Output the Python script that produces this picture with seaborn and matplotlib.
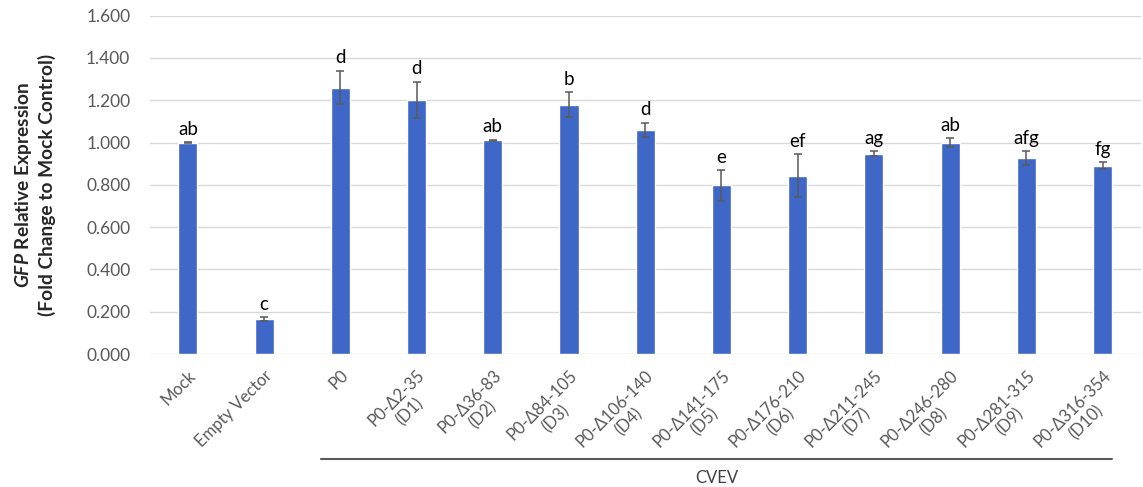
import numpy as np
import pandas as pd
import matplotlib
matplotlib.use("Agg")
import matplotlib.pyplot as plt
import matplotlib.transforms as mtransforms
import seaborn as sns

# ---- data ----
categories = [
    "Mock", "Empty Vector", "P0",
    "P0-Δ2-35\n(D1)", "P0-Δ36-83\n(D2)", "P0-Δ84-105\n(D3)",
    "P0-Δ106-140\n(D4)", "P0-Δ141-175\n(D5)", "P0-Δ176-210\n(D6)",
    "P0-Δ211-245\n(D7)", "P0-Δ246-280\n(D8)", "P0-Δ281-315\n(D9)",
    "P0-Δ316-354\n(D10)",
]
expression = [1.000, 0.165, 1.260, 1.201, 1.010, 1.179, 1.059, 0.797,
              0.844, 0.948, 1.000, 0.927, 0.891]
errors = [0.003, 0.008, 0.080, 0.087, 0.004, 0.060, 0.035, 0.072,
          0.102, 0.012, 0.020, 0.033, 0.018]
letters = ["ab", "c", "d", "d", "ab", "b", "d", "e", "ef", "ag", "ab",
           "afg", "fg"]
y_ticks = [0.0, 0.2, 0.4, 0.6, 0.8, 1.0, 1.2, 1.4, 1.6]
group_label = "CVEV"

df = pd.DataFrame({"construct": categories, "expression": expression})

# ---- style ----
sns.set_theme(style="white")
plt.rcParams["font.family"] = ["Lato", "DejaVu Sans"]
plt.rcParams["mathtext.fontset"] = "custom"
plt.rcParams["mathtext.it"] = "Lato:italic:bold"
plt.rcParams["mathtext.rm"] = "Lato:bold"

bar_color = "#3F67C8"
text_gray = "#595959"

fig = plt.figure(figsize=(11.43, 4.87), dpi=100)
ax = fig.add_axes([0.131, 0.273, 0.867, 0.695])

sns.barplot(data=df, x="construct", y="expression", color=bar_color,
            width=0.25, saturation=1, ax=ax, zorder=3)

xpos = np.arange(len(categories))
ax.errorbar(xpos, expression, yerr=errors, fmt="none", ecolor=text_gray,
            elinewidth=1.1, capsize=3, capthick=1.1, zorder=4)

for x, y, e, lab in zip(xpos, expression, errors, letters):
    ax.annotate(lab, (x, y + e), xytext=(0, 3), textcoords="offset points",
                ha="center", va="bottom", fontsize=13.5, color="black")

# axes cosmetics
ax.set_ylim(0, 1.6)
ax.set_xlim(-0.5, len(categories) - 0.5)
ax.set_yticks(y_ticks)
ax.set_yticklabels([f"{t:.3f}" for t in y_ticks])
ax.yaxis.grid(True, color="#d9d9d9", linewidth=1.0, zorder=0)
ax.set_axisbelow(True)
for s in ax.spines.values():
    s.set_visible(False)
ax.tick_params(axis="both", length=0, colors=text_gray)
ax.tick_params(axis="y", pad=14, labelsize=12.5)

ax.set_xlabel("")
ax.set_ylabel("")
fig.text(0.030, 0.62,
         r"$\it{GFP}$ Relative Expression" + "\n(Fold Change to Mock Control)",
         rotation=90, ha="center", va="center", ma="center",
         fontsize=13.8, fontweight="bold", color="#262626", linespacing=1.25)

ax.set_xticks(xpos)
ax.set_xticklabels(categories, rotation=45, ha="right", va="top",
                   rotation_mode="anchor", multialignment="center",
                   fontsize=12, color=text_gray)
for lbl in ax.get_xticklabels():
    lbl.set_transform(lbl.get_transform() +
                      mtransforms.ScaledTranslation(0 / 72, -6 / 72, fig.dpi_scale_trans))

# group bracket under the CVEV constructs
trans = mtransforms.blended_transform_factory(ax.transData, fig.transFigure)
ax.plot([2 - 0.25, 12 + 0.12], [0.058, 0.058], transform=trans, color=text_gray,
        linewidth=1.5, clip_on=False)
ax.text((2 - 0.25 + 12 + 0.12) / 2, 0.018, group_label, transform=trans,
        ha="center", va="center", fontsize=12, color="#404040")

fig.savefig("out.png", dpi=100)
